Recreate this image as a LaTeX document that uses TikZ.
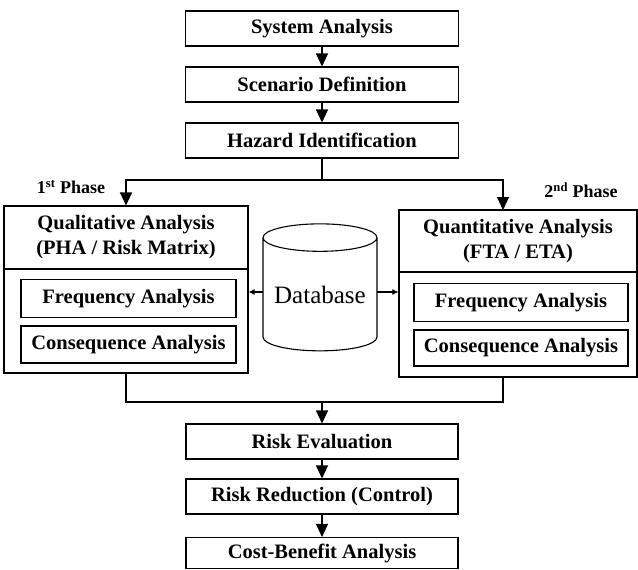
\documentclass[tikz,border=0pt]{standalone}
\usepackage{fontspec}
\setmainfont{Liberation Serif}
\usepackage{tikz}
\usetikzlibrary{
  arrows.meta,
  shapes.geometric
}
\tikzset{
  stage/.style={
    draw,
    line width=1.1pt,
    minimum width=273pt,
    minimum height=35pt,
    inner sep=0pt,
    font=\bfseries\fontsize{20.5}{22}\selectfont},
  sub/.style={
    stage,
    minimum width=215pt,
    minimum height=38pt},
  frame/.style={
    draw,
    line width=1.1pt,
    minimum width=244pt,
    minimum height=167pt,
    inner sep=0pt},
  head/.style={
    align=center,
    inner sep=0pt,
    font=\bfseries\fontsize{20.5}{25}\selectfont},
  phase/.style={
    inner sep=0pt,
    font=\bfseries\fontsize{18}{20}\selectfont},
  db/.style={
    draw,
    cylinder,
    shape border rotate=90,
    aspect=0.3,
    line width=1.1pt,
    minimum width=114pt,
    minimum height=127pt,
    inner sep=0pt,
    font=\fontsize{25}{25}\selectfont},
  flow/.style={
    line width=1.1pt,
    -{Triangle[length=13pt,width=12pt]}},
  link/.style={
    line width=1.1pt},
  feed/.style={
    line width=1.1pt,
    -{Latex[length=6pt,width=6pt]}}
  }

\begin{document}
\begin{tikzpicture}[x=1pt,y=-1pt]
		\useasboundingbox (0,0) rectangle (638,570);
		\node [stage] (sys) at (322,28.5) {System Analysis};
		\node [stage] (scen) at (322,84.5) {Scenario Definition};
		\node [stage] (haz) at (322,140.5) {Hazard Identification};
		\node [frame] (qual) at (126,289.5) {};
		\node [head] (qualh) at (126,237.5) {Qualitative Analysis\\(PHA / Risk Matrix)};
		\node [sub] (lfreq) at (128.5,298.5) {Frequency Analysis};
		\node [sub, minimum height=37pt] (lcons) at (128.5,344.5) {Consequence Analysis};
		\node [frame, minimum width=238pt] (quan) at (518,293.5) {};
		\node [head] (quanh) at (518,241) {Quantitative Analysis\\(FTA / ETA)};
		\node [sub, minimum width=214pt] (rfreq) at (521,302.5) {Frequency Analysis};
		\node [sub, minimum width=214pt, minimum height=36pt] (rcons) at (521,348) {Consequence Analysis};
		\node [db] (db) at (320,294.5) {Database};
		\node [phase] (ph1) at (71,187) {1\textsuperscript{st} Phase};
		\node [phase] (ph2) at (581,190) {2\textsuperscript{nd} Phase};
		\node [stage, minimum width=272pt] (reval) at (322,441.5) {Risk Evaluation};
		\node [stage, minimum width=272pt] (rred) at (322,496.5) {Risk Reduction (Control)};
		\node [stage, minimum width=272pt, minimum height=31pt] (cba) at (322,553) {Cost-Benefit Analysis};
		\coordinate (split) at (322,180);
		\coordinate (quanin) at (503,210);
		\coordinate (quanout) at (503,377);
		\coordinate (merge) at (322,402);
		\coordinate (dbl) at (263,292);
		\coordinate (dbr) at (377,292);
		\draw [link] (qual.west |- 0,269) -- (qual.east |- 0,269);
		\draw [link] (quan.west |- 0,272) -- (quan.east |- 0,272);
		\draw [flow] (sys) to (scen);
		\draw [flow] (scen) to (haz);
		\draw [link] (haz) to (split);
		\draw [flow] (split) -| (qual.north);
		\draw [flow] (split) -| (quanin);
		\draw [feed] (dbl) to (qual.east |- dbl);
		\draw [feed] (dbr) to (quan.west |- dbr);
		\draw [link] (qual.south) |- (merge);
		\draw [link] (quanout) |- (merge);
		\draw [flow] (merge) to (reval);
		\draw [flow] (reval) to (rred);
		\draw [flow] (rred) to (cba);
	\end{tikzpicture}
\end{document}
